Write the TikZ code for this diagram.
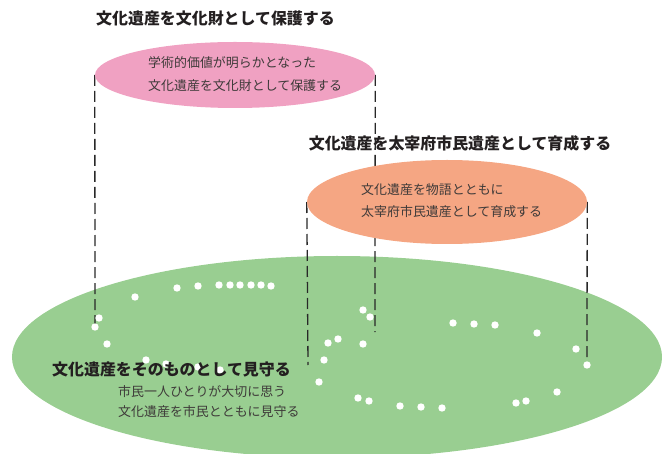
\documentclass[tikz,border=0pt]{standalone}
\usepackage{fontspec}
\setmainfont{Noto Sans CJK JP}
\usetikzlibrary{shapes.geometric}
\pgfdeclarelayer{base}
\pgfdeclarelayer{guides}
\pgfsetlayers{base,guides,main}
\definecolor{pinkc}{RGB}{240,161,194}
\definecolor{orangec}{RGB}{245,166,131}
\definecolor{greenc}{RGB}{153,206,145}
\definecolor{titlec}{RGB}{35,31,32}
\definecolor{textc}{RGB}{62,58,57}
\definecolor{linec}{RGB}{40,40,40}
\tikzset{
  blob/.style={ellipse, draw=none, inner sep=0pt},
  guide/.style={draw=linec, line width=1.3bp, dash pattern=on 11bp off 5bp},
  dot/.style={fill=white},
  title/.style={font=\fontsize{16}{18}\selectfont\bfseries, text=titlec, inner sep=0pt},
  body/.style={font=\fontsize{13}{15}\selectfont, text=textc, inner sep=0pt, anchor=west}
}
\begin{document}
\begin{tikzpicture}[x=1bp,y=-1bp]
\useasboundingbox (0,0) rectangle (662,454);
\clip (0,0) rectangle (662,454);
% upper ellipses
\node[blob, fill=pinkc, minimum width=280bp, minimum height=66bp] (pink) at (235,75) {};
\node[blob, fill=orangec, minimum width=280bp, minimum height=84bp] (orange) at (447,202) {};
\begin{pgfonlayer}{base}
\node[blob, fill=greenc, minimum width=650bp, minimum height=202bp] (green) at (337,357) {};
\end{pgfonlayer}
\begin{pgfonlayer}{guides}
% end points of the guides
\coordinate (pl) at (95,327);
\coordinate (pr) at (375,332);
\coordinate (ol) at (308,365);
\coordinate (or) at (587,365);
\draw[guide] (pink.west) -- (pl);
\draw[guide] (pink.east) -- (pr);
\draw[guide] (orange.west) -- (ol);
\draw[guide] (orange.east) -- (or);
% dots
\foreach \x/\y [count=\i] in {99/318,95/327,107/344,135/297,177/288,198/286,219/285,230/285,240/285,251/285,261/285,271/286,
  146/360,166/364,198/367,220/370,
  363/310,370/317,338/339,328/343,363/344,324/360,319/382,358/398,369/401,400/406,421/407,442/408,
  453/323,474/324,495/325,537/333,576/349,587/365,557/392,526/401,516/403}
  {\coordinate (d\i) at (\x,\y); \fill[dot] (d\i) circle (3.7bp);}
\end{pgfonlayer}
% titles
\node[title] (t1) at (215.5,18) {文化遺産を文化財として保護する};
\node[title] (t2) at (460,143) {文化遺産を太宰府市民遺産として育成する};
\node[title] (t3) at (171.5,369) {文化遺産をそのものとして見守る};
% body texts
\node[body] (p1) at (148,63) {学術的価値が明らかとなった};
\node[body] (p2) at (148,86) {文化遺産を文化財として保護する};
\node[body] (o1) at (361,190) {文化遺産を物語とともに};
\node[body] (o2) at (361,212) {太宰府市民遺産として育成する};
\node[body] (g1) at (118,392) {市民一人ひとりが大切に思う};
\node[body] (g2) at (118,412) {文化遺産を市民とともに見守る};
\end{tikzpicture}
\end{document}
